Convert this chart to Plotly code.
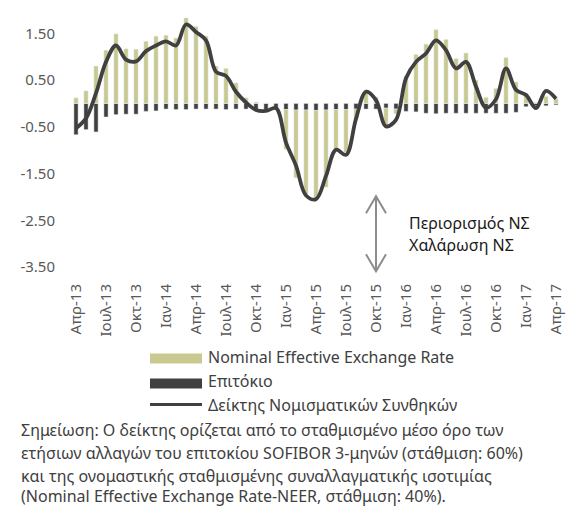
import plotly.graph_objects as go

months = ["Απρ-13","Μαϊ-13","Ιουν-13","Ιουλ-13","Αυγ-13","Σεπ-13","Οκτ-13","Νοε-13","Δεκ-13",
          "Ιαν-14","Φεβ-14","Μαρ-14","Απρ-14","Μαϊ-14","Ιουν-14","Ιουλ-14","Αυγ-14","Σεπ-14","Οκτ-14","Νοε-14","Δεκ-14",
          "Ιαν-15","Φεβ-15","Μαρ-15","Απρ-15","Μαϊ-15","Ιουν-15","Ιουλ-15","Αυγ-15","Σεπ-15","Οκτ-15","Νοε-15","Δεκ-15",
          "Ιαν-16","Φεβ-16","Μαρ-16","Απρ-16","Μαϊ-16","Ιουν-16","Ιουλ-16","Αυγ-16","Σεπ-16","Οκτ-16","Νοε-16","Δεκ-16",
          "Ιαν-17","Φεβ-17","Μαρ-17","Απρ-17"]

neer = [0.12, 0.27, 0.80, 1.14, 1.49, 1.17, 1.16, 1.33, 1.44,
        1.46, 1.40, 1.83, 1.65, 1.44, 0.80, 0.75, 0.44, 0.12, 0.03, 0.01, -0.01,
        -0.85, -1.45, -1.80, -1.90, -1.65, -0.85, -0.92, -0.22, 0.29, 0.14, -0.35, -0.10,
        0.59, 1.05, 1.27, 1.58, 1.37, 0.96, 1.08, 0.50, 0.13, 0.32, 0.98, 0.46,
        0.22, 0.02, 0.15, 0.10]

rate = [-0.67, -0.56, -0.61, -0.29, -0.24, -0.23, -0.23, -0.17, -0.16,
        -0.12, -0.13, -0.13, -0.12, -0.12, -0.12, -0.13, -0.12, -0.12, -0.13, -0.13, -0.13,
        -0.13, -0.14, -0.14, -0.15, -0.14, -0.13, -0.13, -0.12, -0.12, -0.12, -0.10, -0.12,
        -0.17, -0.18, -0.21, -0.22, -0.21, -0.21, -0.21, -0.21, -0.21, -0.21, -0.21, -0.19,
        -0.07, -0.05, -0.05, -0.03]

index_vals = [-0.53, -0.32, 0.22, 0.89, 1.24, 0.94, 0.90, 1.12, 1.24,
              1.33, 1.24, 1.69, 1.53, 1.35, 0.68, 0.59, 0.25, 0.02, -0.14, -0.16, -0.10,
              -0.84, -1.33, -1.97, -2.05, -1.55, -0.99, -1.10, -0.33, 0.25, 0.07, -0.49, -0.35,
              0.54, 0.89, 1.07, 1.35, 1.14, 0.75, 0.89, 0.36, -0.09, 0.09, 0.75, 0.29,
              0.18, -0.10, 0.27, 0.10]

tick_months = months[::3]
ytick_vals = [-3.5, -2.5, -1.5, -0.5, 0.5, 1.5]
ytick_text = ["-3.50", "-2.50", "-1.50", "-0.50", "0.50", "1.50"]

legend_labels = ["Nominal Effective Exchange Rate", "Επιτόκιο", "Δείκτης Νομισματικών Συνθηκών"]
note_lines = ["Σημείωση: Ο δείκτης ορίζεται από το σταθμισμένο μέσο όρο των",
              "ετήσιων αλλαγών του επιτοκίου SOFIBOR 3-μηνών (στάθμιση: 60%)",
              "και της ονομαστικής σταθμισμένης συναλλαγματικής ισοτιμίας",
              "(Nominal Effective Exchange Rate-NEER, στάθμιση: 40%)."]
arrow_labels = ["Περιορισμός ΝΣ", "Χαλάρωση ΝΣ"]

KHAKI = "#C9C98F"
DARK = "#404040"
FONT = "Noto Sans"

PAGE_W, PAGE_H = 574, 506
OFF = 8  # default body margin of the page
W, H = PAGE_W - OFF, PAGE_H - OFF
# plot area in page pixel coordinates
L, R, T, B = 71, 561, 10, 266.67

def px(x):
    return (x - L) / (R - L)

def py(y):
    return (B - y) / (B - T)

fig = go.Figure()
fig.add_trace(go.Bar(x=months, y=rate, marker_color=DARK, name=legend_labels[1], showlegend=False))
fig.add_trace(go.Bar(x=months, y=neer, marker_color=KHAKI, name=legend_labels[0], showlegend=False))
fig.add_trace(go.Scatter(x=months, y=index_vals, mode="lines",
                         line=dict(color=DARK, width=3.8, shape="spline", smoothing=1.0),
                         name=legend_labels[2], showlegend=False))

shapes = []
annotations = []

# manual legend
shapes.append(dict(type="rect", xref="paper", yref="paper", x0=px(150), x1=px(202), y0=py(363), y1=py(353),
                   fillcolor=KHAKI, line=dict(width=0)))
shapes.append(dict(type="rect", xref="paper", yref="paper", x0=px(150), x1=px(202), y0=py(388), y1=py(378),
                   fillcolor=DARK, line=dict(width=0)))
shapes.append(dict(type="line", xref="paper", yref="paper", x0=px(150), x1=px(202), y0=py(404), y1=py(404),
                   line=dict(color=DARK, width=3)))
for lab, yy in zip(legend_labels, [357, 381, 404]):
    annotations.append(dict(xref="paper", yref="paper", x=px(206), y=py(yy), text=lab, showarrow=False,
                            xanchor="left", yanchor="middle", font=dict(family=FONT, size=16, color="#404040")))

# note
for lab, yy in zip(note_lines, [429, 452, 475, 495]):
    annotations.append(dict(xref="paper", yref="paper", x=px(19), y=py(yy), text=lab, showarrow=False,
                            xanchor="left", yanchor="middle", font=dict(family=FONT, size=16, color="#404040")))

# arrow labels
for lab, yy in zip(arrow_labels, [223, 245]):
    annotations.append(dict(xref="paper", yref="paper", x=px(407), y=py(yy), text=lab, showarrow=False,
                            xanchor="left", yanchor="middle", font=dict(family=FONT, size=16, color="#1a1a1a")))

# double-headed arrow
ax_, ay1, ay2 = 376, 196, 271
path = (f"M {px(ax_)},{py(ay1)} L {px(ax_)},{py(ay2)} "
        f"M {px(ax_-10)},{py(ay1+17)} L {px(ax_)},{py(ay1)} L {px(ax_+10)},{py(ay1+17)} "
        f"M {px(ax_-10)},{py(ay2-17)} L {px(ax_)},{py(ay2)} L {px(ax_+10)},{py(ay2-17)}")
shapes.append(dict(type="path", xref="paper", yref="paper", path=path, line=dict(color="#8C8C8C", width=2)))

fig.update_layout(
    width=W, height=H,
    margin=dict(l=L - OFF, r=PAGE_W - R, t=T - OFF, b=PAGE_H - B, pad=0),
    paper_bgcolor="white", plot_bgcolor="white",
    barmode="relative", bargap=0.58,
    font=dict(family=FONT, color="#595959"),
    shapes=shapes, annotations=annotations,
    xaxis=dict(type="category", tickvals=tick_months, ticktext=tick_months, tickangle=-90,
               showgrid=False, zeroline=False, showline=False, ticks="",
               tickfont=dict(family=FONT, size=15, color="#595959"), ticklabelstandoff=13,
               range=[-0.5, len(months) - 0.5]),
    yaxis=dict(range=[-3.5, 2.0], tickvals=ytick_vals, ticktext=ytick_text, showgrid=False,
               zeroline=False, showline=False, ticks="",
               tickfont=dict(family=FONT, size=15, color="#595959"), ticklabelstandoff=15),
)

fig.write_html("out.html")
